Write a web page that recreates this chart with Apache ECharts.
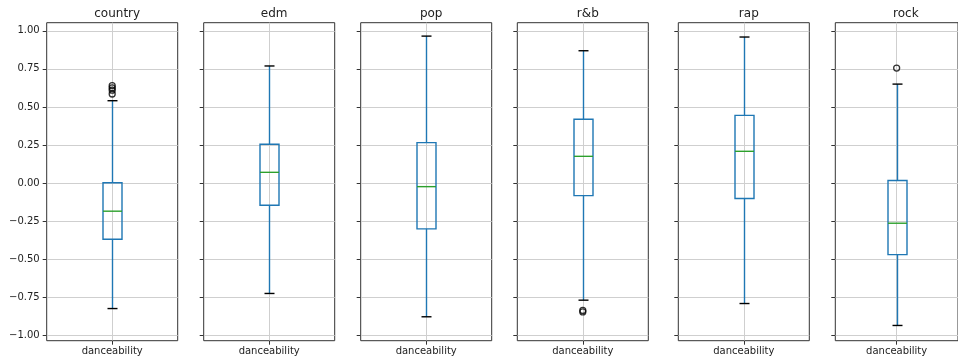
<!DOCTYPE html>
<html>
<head>
<meta charset="utf-8">
<script src="https://cdn.jsdelivr.net/npm/echarts@6/dist/echarts.min.js"></script>
<style>
html,body{margin:0;padding:0;background:#fff;}
#chart{width:958px;height:363px;}
</style>
</head>
<body>
<div id="chart"></div>
<script>
// ---- data ----
const genres = ['country', 'edm', 'pop', 'r&b', 'rap', 'rock'];
const xLabel = 'danceability';
const lowWhisker  = [-0.823, -0.724, -0.877, -0.768, -0.790, -0.934];
const q1Values    = [-0.368, -0.145, -0.300, -0.082, -0.101, -0.469];
const medians     = [-0.184,  0.071, -0.023,  0.176,  0.209, -0.263];
const q3Values    = [ 0.003,  0.255,  0.266,  0.419,  0.445,  0.017];
const highWhisker = [ 0.541,  0.769,  0.965,  0.869,  0.959,  0.650];
const outliers    = [[0.640, 0.625, 0.610, 0.585], [], [], [-0.835, -0.845], [], [0.755]];
const yTicks = [-1.0, -0.75, -0.5, -0.25, 0.0, 0.25, 0.5, 0.75, 1.0];

// ---- layout ----
const panelLefts = [46.7, 203.7, 360.7, 517.3, 678.3, 835.3];
const panelTop = 22.7, panelW = 131, panelH = 318;
const yMin = -1.034, yMax = 1.053;
const boxW = 19, capW = 10;
const C_BOX = '#1f77b4', C_MED = '#2ca02c', C_GRID = '#cfcfcf', C_AX = '#333333';
const FONT = 'DejaVu Sans';

function fmtY(v) {
  const s = Math.abs(v).toFixed(2);
  return (v < -1e-9 ? '\u2212' : '') + s;
}

function renderBox(params, api) {
  const x = api.value(0);
  const lo = api.coord([x, api.value(1)]);
  const q1 = api.coord([x, api.value(2)]);
  const md = api.coord([x, api.value(3)]);
  const q3 = api.coord([x, api.value(4)]);
  const hi = api.coord([x, api.value(5)]);
  const cx = Math.round(lo[0]) + 0.5;
  const ln = (x1, y1, x2, y2, c) => ({
    type: 'line', shape: {x1, y1, x2, y2},
    style: {stroke: c, lineWidth: 1.4}
  });
  return {
    type: 'group',
    children: [
      ln(cx, q1[1], cx, lo[1], C_BOX),
      ln(cx, q3[1], cx, hi[1], C_BOX),
      ln(cx - capW / 2, lo[1], cx + capW / 2, lo[1], '#000'),
      ln(cx - capW / 2, hi[1], cx + capW / 2, hi[1], '#000'),
      {type: 'rect', shape: {x: cx - boxW / 2, y: q3[1], width: boxW, height: q1[1] - q3[1]},
       style: {fill: 'none', stroke: C_BOX, lineWidth: 1.4}},
      ln(cx - boxW / 2, md[1], cx + boxW / 2, md[1], C_MED)
    ]
  };
}

const grids = [], xAxes = [], yAxes = [], series = [], titles = [];
genres.forEach((g, i) => {
  grids.push({
    left: panelLefts[i], top: panelTop, width: panelW, height: panelH,
    show: true, borderColor: C_AX, borderWidth: 1, backgroundColor: '#fff',
    containLabel: false
  });
  xAxes.push({
    type: 'value', gridIndex: i, min: 0.5, max: 1.5, position: 'bottom',
    axisLine: {show: false, onZero: false},
    axisTick: {show: true, customValues: [1], length: 4, lineStyle: {color: C_AX}},
    axisLabel: {show: true, customValues: [1], formatter: () => xLabel,
      fontFamily: FONT, fontSize: 10, color: '#222', margin: 6},
    splitLine: {show: true, lineStyle: {color: C_GRID, width: 1}}
  });
  yAxes.push({
    type: 'value', gridIndex: i, min: yMin, max: yMax, position: 'left',
    axisLine: {show: false, onZero: false},
    axisTick: {show: true, customValues: yTicks, length: 4, lineStyle: {color: C_AX}},
    axisLabel: {show: i === 0, customValues: yTicks, formatter: fmtY,
      fontFamily: FONT, fontSize: 10, color: '#222', margin: 7},
    splitLine: {show: true, lineStyle: {color: C_GRID, width: 1}}
  });
  series.push({
    type: 'custom', xAxisIndex: i, yAxisIndex: i, clip: false,
    renderItem: renderBox,
    encode: {x: 0, y: [1, 2, 3, 4, 5]},
    data: [[1, lowWhisker[i], q1Values[i], medians[i], q3Values[i], highWhisker[i]]],
    z: 3
  });
  series.push({
    type: 'scatter', xAxisIndex: i, yAxisIndex: i,
    symbol: 'circle', symbolSize: 6,
    itemStyle: {color: 'rgba(0,0,0,0)', borderColor: '#000', borderWidth: 1.3},
    data: outliers[i].map(v => [1, v]),
    z: 4
  });
  titles.push({
    text: g, left: panelLefts[i] + panelW / 2, top: 3, textAlign: 'center',
    textStyle: {fontFamily: FONT, fontSize: 12, fontWeight: 'normal', color: '#222'}
  });
});

const chart = echarts.init(document.getElementById('chart'), null, {renderer: 'canvas'});
chart.setOption({
  animation: false,
  backgroundColor: '#fff',
  title: titles,
  grid: grids,
  xAxis: xAxes,
  yAxis: yAxes,
  series: series
});
</script>
</body>
</html>
